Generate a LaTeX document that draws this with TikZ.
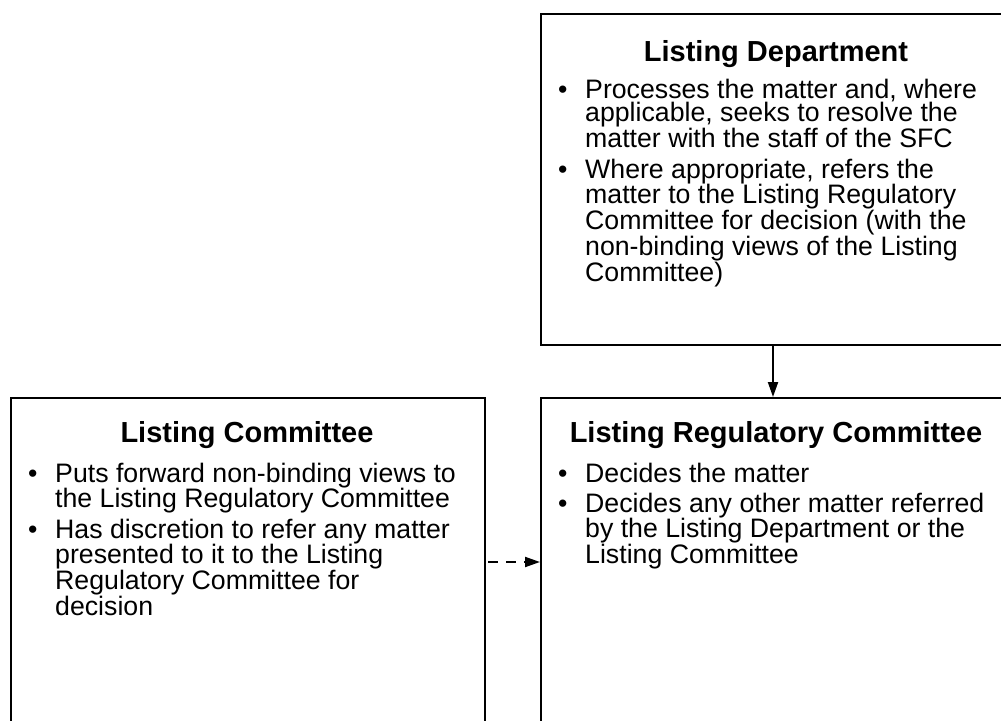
\documentclass[tikz,border=0pt]{standalone}
\usepackage{fontspec}
\setmainfont{Liberation Sans}
\usetikzlibrary{arrows.meta}
\newcommand\bulitem[1]{\makebox[27pt][l]{\textbullet}\parbox[t]{440pt}{\raggedright #1}}
\begin{document}
\begin{tikzpicture}[x=1pt,y=-1pt,
  box/.style={draw, line width=2pt, rectangle, minimum width=472pt, anchor=north west, inner sep=0pt},
  ttl/.style={font=\fontsize{29}{30}\selectfont\bfseries, anchor=base, inner sep=0pt},
  itm/.style={font=\fontsize{26.7}{23.6}\selectfont, anchor=base west, inner sep=0pt},
  conn/.style={line width=2pt, -{Triangle[length=15pt,width=10pt]}}]
\useasboundingbox (0,0) rectangle (1001,720);
\clip (0,0) rectangle (1001,720);
% boxes
\node[box, minimum height=331pt] (dept) at (540,13) {};
\node[box, minimum width=474pt, minimum height=400pt] (lc) at (10,397) {};
\node[box, minimum height=400pt] (reg) at (540,397) {};
% titles
\node[ttl] (deptT) at (776,61) {Listing Department};
\node[ttl] (lcT) at (247,442) {Listing Committee};
\node[ttl] (regT) at (776,442) {Listing Regulatory Committee};
% bullets
\node[itm] (d1) at (558,98) {\bulitem{Processes the matter and, where\\applicable, seeks to resolve the\\matter with the staff of the SFC}};
\node[itm] (d2) at (558,178) {\bulitem{Where appropriate, refers the\\matter to the Listing Regulatory\\Committee for decision (with the\\non-binding views of the Listing\\Committee)}};
\node[itm] (l1) at (28,482) {\bulitem{Puts forward non-binding views to\\the Listing Regulatory Committee}};
\node[itm] (l2) at (28,538) {\bulitem{Has discretion to refer any matter\\presented to it to the Listing\\Regulatory Committee for\\decision}};
\node[itm] (r1) at (558,482) {\bulitem{Decides the matter}};
\node[itm] (r2) at (558,512) {\bulitem{Decides any other matter referred\\by the Listing Department or the\\Listing Committee}};
% connectors
\coordinate (ax) at (773,0);
\draw[conn] (dept.south -| ax) -- (reg.north -| ax);
\coordinate (ds) at (488,562);
\draw[conn, dash pattern=on 10pt off 8pt] (ds) -- (ds -| reg.west);
\end{tikzpicture}
\end{document}
